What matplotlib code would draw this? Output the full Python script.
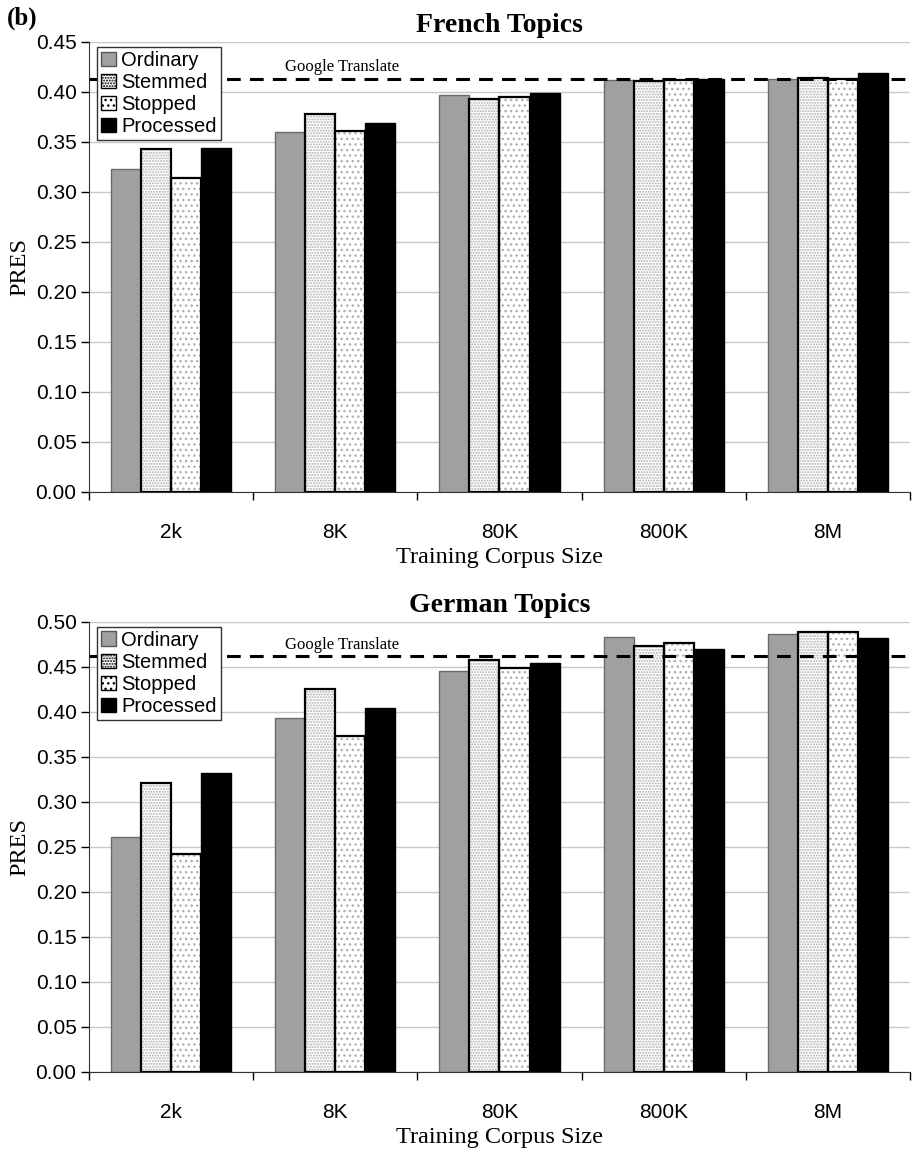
import numpy as np
import matplotlib
matplotlib.use("Agg")
import matplotlib.pyplot as plt
from matplotlib.patches import Patch

SIZES   = ["2k", "8K", "80K", "800K", "8M"]
SERIES  = ["Ordinary", "Stemmed", "Stopped", "Processed"]

FRENCH = {
    "Ordinary":  [0.323, 0.360, 0.397, 0.412, 0.413],
    "Stemmed":   [0.343, 0.378, 0.393, 0.411, 0.414],
    "Stopped":   [0.314, 0.361, 0.395, 0.412, 0.413],
    "Processed": [0.344, 0.369, 0.399, 0.413, 0.419],
}
GERMAN = {
    "Ordinary":  [0.261, 0.393, 0.445, 0.483, 0.487],
    "Stemmed":   [0.321, 0.425, 0.458, 0.473, 0.489],
    "Stopped":   [0.242, 0.373, 0.449, 0.477, 0.489],
    "Processed": [0.332, 0.404, 0.454, 0.470, 0.482],
}
GOOGLE_FR = 0.413
GOOGLE_DE = 0.462

SERIF = "Liberation Serif"
SANS  = "Liberation Sans"

# face, hatch
STYLE = {
    "Ordinary":  ("#a0a0a0", None),
    "Stemmed":   ("white", "......"),
    "Stopped":   ("white", "..."),
    "Processed": ("black", None),
}

fig = plt.figure(figsize=(9.16, 11.56), dpi=100)
ax_top = fig.add_axes([0.0972, 0.5744, 0.8962, 0.3893])
ax_bot = fig.add_axes([0.0972, 0.0727, 0.8962, 0.3893])

BW = 0.183

def draw(ax, data, google, ymax, title):
    x = np.arange(len(SIZES))
    for i, name in enumerate(SERIES):
        face, hatch = STYLE[name]
        pos = x + (i - 1.5) * BW
        vals = data[name]
        if hatch:
            # hatch in light grey, outline drawn separately in black
            ax.bar(pos, vals, BW, color=face, edgecolor="#b0b0b0", hatch=hatch,
                   linewidth=0, zorder=2)
            ax.bar(pos, vals, BW, color="none", edgecolor="black", linewidth=1.6, zorder=3)
        else:
            ec = "#6a6a6a" if name == "Ordinary" else "black"
            ax.bar(pos, vals, BW, color=face, edgecolor=ec, linewidth=1.0, zorder=2)

    ax.axhline(google, color="black", lw=2.2, ls=(0, (4.5, 3)), zorder=4)
    ax.text(1.04, google + 0.004, "Google Translate", ha="center", va="bottom",
            family=SERIF, fontsize=12, zorder=5)

    ax.set_xlim(-0.5, len(SIZES) - 0.5)
    ax.set_ylim(0, ymax)
    ticks = np.arange(0, ymax + 0.001, 0.05)
    ax.set_yticks(ticks)
    ax.set_yticklabels([f"{v:.2f}" for v in ticks], family=SANS, fontsize=15)
    ax.set_xticks(x)
    ax.set_xticklabels(SIZES, family=SANS, fontsize=15)
    ax.set_xticks(np.arange(-0.5, len(SIZES)), minor=True)
    ax.tick_params(axis="x", which="major", length=0, pad=22)
    ax.tick_params(axis="x", which="minor", length=6, direction="out", width=1.0)
    ax.tick_params(axis="y", length=6, direction="out", width=1.0, pad=3)
    ax.yaxis.grid(True, color="#c8c8c8", lw=1.0, zorder=0)
    ax.set_axisbelow(True)
    for s in ["top", "right"]:
        ax.spines[s].set_visible(False)
    ax.spines["left"].set_color("#333333")
    ax.spines["bottom"].set_color("#333333")

    ax.set_ylabel("PRES", family=SERIF, fontsize=17.5, labelpad=4)
    ax.set_xlabel("Training Corpus Size", family=SERIF, fontsize=17.5, labelpad=4)
    ax.set_title(title, family=SERIF, fontsize=20, fontweight="bold", pad=7)

    handles = []
    for name in SERIES:
        face, hatch = STYLE[name]
        ec = "#555555" if name == "Ordinary" else "black"
        handles.append(Patch(facecolor=face, edgecolor=ec, hatch=hatch, linewidth=1.0))
    leg = ax.legend(handles, SERIES, loc="upper left", bbox_to_anchor=(0.005, 0.998),
                    prop={"family": SANS, "size": 14.5}, frameon=True, fancybox=False,
                    framealpha=1, edgecolor="#333333", borderpad=0.2, labelspacing=0.15,
                    handlelength=0.75, handleheight=0.75, handletextpad=0.25,
                    borderaxespad=0.2)
    leg.get_frame().set_linewidth(1.0)
    leg.set_zorder(10)

draw(ax_top, FRENCH, GOOGLE_FR, 0.45, "French Topics")
draw(ax_bot, GERMAN, GOOGLE_DE, 0.50, "German Topics")

fig.text(0.008, 0.984, "(b)", family=SERIF, fontsize=18, fontweight="bold",
         ha="left", va="center")

fig.savefig("out.png", dpi=100)
